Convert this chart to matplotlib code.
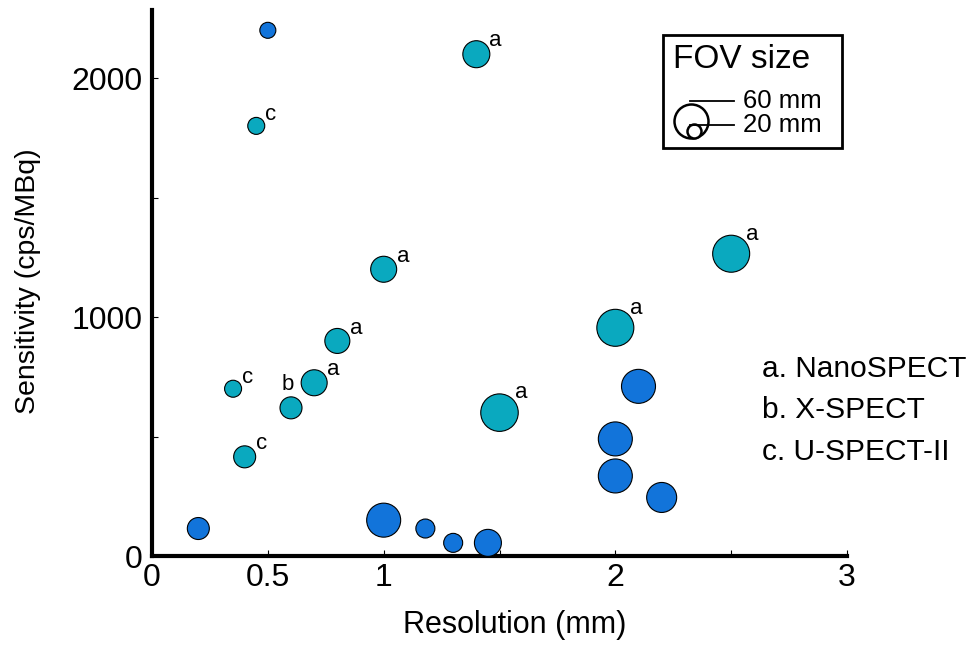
import matplotlib
matplotlib.use("Agg")
import matplotlib.pyplot as plt
from matplotlib.patches import Rectangle
from matplotlib.lines import Line2D

plt.rcParams['font.family'] = ['Liberation Sans', 'DejaVu Sans']

# ---- data ----
resolution_mm = [0.50, 1.40, 0.45, 1.00, 0.80, 0.70, 0.60, 0.35, 0.40, 1.50, 2.00, 2.50,
                 0.20, 1.00, 1.18, 1.30, 1.45, 2.10, 2.00, 2.00, 2.20]
sensitivity = [2200, 2100, 1800, 1200, 900, 725, 620, 700, 415, 600, 955, 1265,
               115, 150, 115, 55, 55, 710, 490, 335, 245]
fov_mm = [24, 46, 26, 44, 42, 44, 36, 26, 36, 67, 66, 66,
          36, 60, 30, 30, 46, 60, 60, 60, 52]
group = ['blue', 'teal', 'teal', 'teal', 'teal', 'teal', 'teal', 'teal', 'teal', 'teal', 'teal', 'teal',
         'blue', 'blue', 'blue', 'blue', 'blue', 'blue', 'blue', 'blue', 'blue']
labels = ['', 'a', 'c', 'a', 'a', 'a', 'b', 'c', 'c', 'a', 'a', 'a',
          '', '', '', '', '', '', '', '', '']
x_ticks = [0, 0.5, 1, 1.5, 2, 2.5, 3]
x_tick_labels = ['0', '0.5', '1', '', '2', '', '3']
y_ticks = [0, 500, 1000, 1500, 2000]
y_tick_labels = ['0', '', '1000', '', '2000']
legend_fov = [60, 20]
legend_text = ['a. NanoSPECT', 'b. X-SPECT', 'c. U-SPECT-II']

colors = {'teal': '#0AA9BF', 'blue': '#1274DA'}

W, H = 976, 645
fig = plt.figure(figsize=(W / 100, H / 100), dpi=100)
ax = fig.add_axes([152 / W, 1 - 556 / H, (847 - 152) / W, (556 - 10) / H])


def radius_px(f):
    return 0.25 * f + 2.0


def size_pt2(f):
    d_pt = 2 * radius_px(f) * 0.72
    return d_pt ** 2


ax.scatter(resolution_mm, sensitivity, s=[size_pt2(f) for f in fov_mm],
           c=[colors[g] for g in group], edgecolors='black', linewidths=0.8,
           zorder=3, clip_on=False)

for xv, yv, f, lab in zip(resolution_mm, sensitivity, fov_mm, labels):
    if not lab:
        continue
    r = radius_px(f) * 0.72
    if lab == 'a':
        dx, dy = 0.4 * r + 10, 1.2 * r - 2
    elif lab == 'c':
        dx, dy = r + 4, r + 2
    else:
        dx, dy = -2, r + 9
    ax.annotate(lab, (xv, yv), xytext=(dx, dy), textcoords='offset points',
                ha='center', va='center', fontsize=16, zorder=4)

ax.set_xlim(0, 3)
ax.set_ylim(0, 2285)
ax.set_xticks(x_ticks)
ax.set_xticklabels(x_tick_labels)
ax.set_yticks(y_ticks)
ax.set_yticklabels(y_tick_labels)
ax.tick_params(direction='in', length=4, width=0.8, labelsize=23)
ax.tick_params(axis='x', pad=5)
ax.tick_params(axis='y', pad=7)
for s in ['top', 'right']:
    ax.spines[s].set_visible(False)
for s in ['left', 'bottom']:
    ax.spines[s].set_linewidth(3)
ax.set_xlabel('Resolution (mm)', fontsize=22, va='center')
ax.xaxis.set_label_coords((515 - 152) / 695, (556 - 625) / 546)
ax.set_ylabel('Sensitivity (cps/MBq)', fontsize=20.5, va='center')
ax.yaxis.set_label_coords((28 - 152) / 695, (556 - 281) / 546)


# FOV size legend box (figure pixel coords -> fractions)
def fx(px):
    return px / W


def fy(py):
    return 1 - py / H


fig.patches.append(Rectangle((fx(663), fy(148)), fx(842) - fx(663), fy(35) - fy(148),
                             transform=fig.transFigure, fill=False, lw=2, ec='black'))
fig.text(fx(673), fy(59), 'FOV size', fontsize=24, va='center', ha='left')
bottom_y = 138
for f, cx, ly in zip(legend_fov, [691, 694], [101, 125]):
    r = radius_px(f)
    cy = bottom_y - r
    fig.add_artist(Line2D([fx(cx)], [fy(cy)], marker='o', markersize=2 * r * 0.72,
                          markerfacecolor='white', markeredgecolor='black',
                          markeredgewidth=1.8, transform=fig.transFigure))
    fig.add_artist(Line2D([fx(690), fx(734)], [fy(ly), fy(ly)], color='black',
                          lw=1.3, transform=fig.transFigure))
    fig.text(fx(743), fy(ly), f'{f} mm', fontsize=18.5, va='center', ha='left')

for i, t in enumerate(legend_text):
    fig.text(fx(762), fy(369 + 41.5 * i), t, fontsize=21.5, va='center', ha='left')

fig.savefig('out.png', dpi=100)
